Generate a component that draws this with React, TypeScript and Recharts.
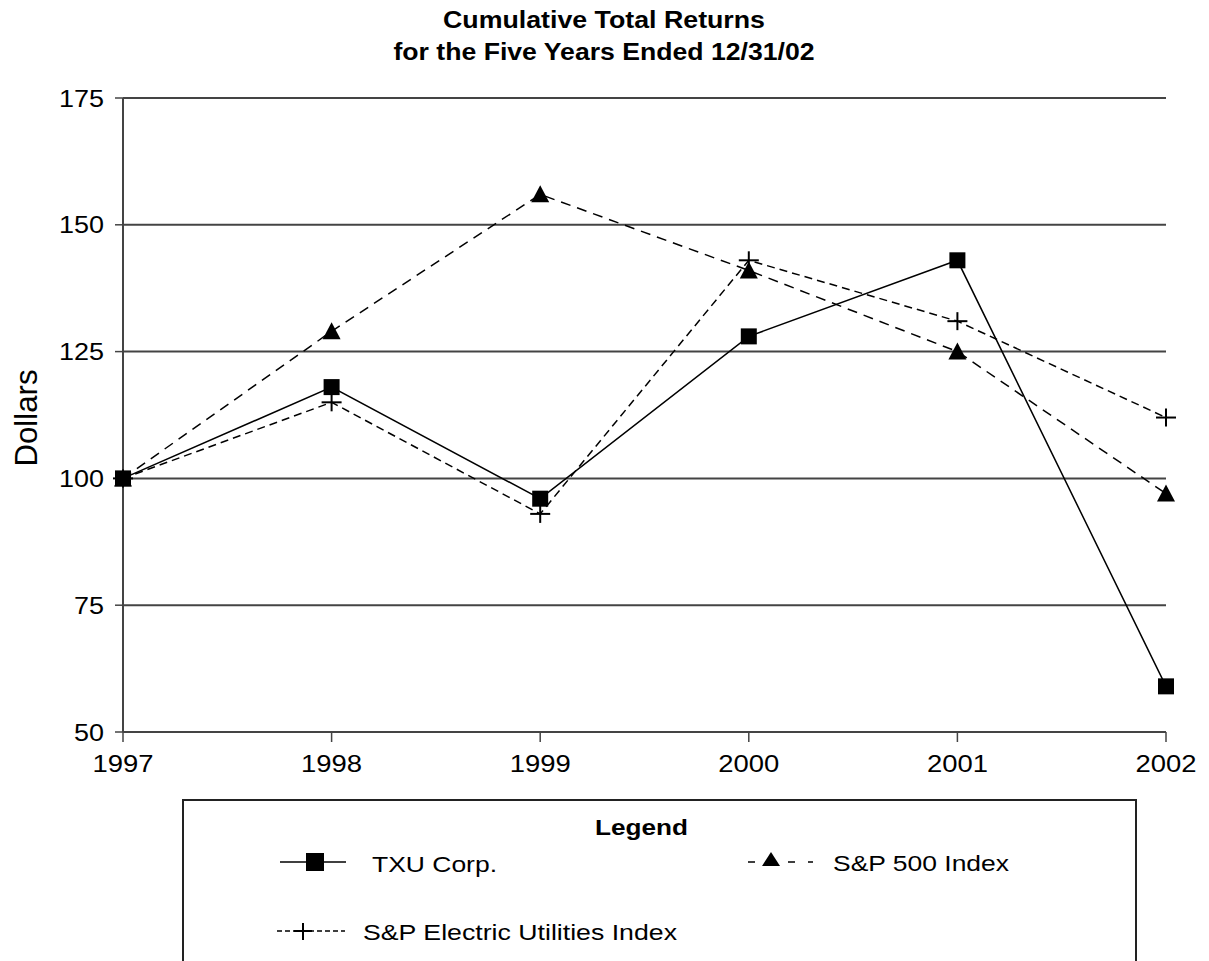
import React from 'react'
import { LineChart, Line, XAxis, YAxis, CartesianGrid, Legend, Customized } from 'recharts'

const years = ['1997', '1998', '1999', '2000', '2001', '2002']
const txuCorp = [100, 118, 96, 128, 143, 59]
const sp500 = [100, 129, 156, 141, 125, 97]
const spElectric = [100, 115, 93, 143, 131, 112]
const yTicks = [50, 75, 100, 125, 150, 175]

const data = years.map((year, i) => ({
  year,
  txu: txuCorp[i],
  sp500: sp500[i],
  elec: spElectric[i],
}))

const FONT = '"Liberation Sans", Arial, Helvetica, sans-serif'

// the source type is a bit wider than Arial, so text gets a textLength
const wide = (len: number) => ({ textLength: len, lengthAdjust: 'spacingAndGlyphs' as const })

const SquareDot = (props: any) => {
  const { cx, cy, index } = props
  if (cx == null || cy == null) return <g key={`sq-${index}`} />
  return <rect key={`sq-${index}`} x={cx - 8} y={cy - 8} width={16} height={16} fill="#000" />
}

const TriangleDot = (props: any) => {
  const { cx, cy, index } = props
  if (cx == null || cy == null) return <g key={`tr-${index}`} />
  return (
    <polygon
      key={`tr-${index}`}
      points={`${cx},${cy - 9} ${cx - 9},${cy + 8} ${cx + 9},${cy + 8}`}
      fill="#000"
    />
  )
}

const PlusDot = (props: any) => {
  const { cx, cy, index } = props
  if (cx == null || cy == null) return <g key={`pl-${index}`} />
  return (
    <g key={`pl-${index}`} stroke="#000" strokeWidth={2}>
      <line x1={cx - 10} y1={cy} x2={cx + 10} y2={cy} />
      <line x1={cx} y1={cy - 9} x2={cx} y2={cy + 9} />
    </g>
  )
}

const YTick = (props: any) => {
  const { x, y, payload } = props
  const s = String(payload.value)
  return (
    <text x={x} y={y} dy="0.355em" textAnchor="end" fontSize={24} fill="#000" fontFamily={FONT} {...wide(s.length * 15)}>
      {s}
    </text>
  )
}

const XTick = (props: any) => {
  const { x, y, payload } = props
  const s = String(payload.value)
  return (
    <text x={x} y={y} dy="0.71em" textAnchor="middle" fontSize={24} fill="#000" fontFamily={FONT} {...wide(s.length * 15.25)}>
      {s}
    </text>
  )
}

const Titles = () => (
  <g fontFamily={FONT} fill="#000">
    <text x={604} y={28} textAnchor="middle" fontSize={23} fontWeight="bold" {...wide(322)}>
      Cumulative Total Returns
    </text>
    <text x={604} y={60} textAnchor="middle" fontSize={23} fontWeight="bold" {...wide(421)}>
      for the Five Years Ended 12/31/02
    </text>
    <text x={37} y={418} textAnchor="middle" fontSize={31} transform="rotate(-90 37 418)" {...wide(97)}>
      Dollars
    </text>
  </g>
)

const LegendBox = () => (
  <div
    style={{
      width: 955,
      height: 162,
      boxSizing: 'border-box',
      borderTop: '2px solid #222',
      borderLeft: '2px solid #222',
      borderRight: '2px solid #222',
      background: '#fff',
    }}
  >
    <svg width={951} height={160} style={{ display: 'block', fontFamily: FONT }}>
      <text x={411} y={34} fontSize={22} fontWeight="bold" fill="#000" {...wide(93)}>Legend</text>

      <line x1={96} y1={61} x2={162} y2={61} stroke="#000" strokeWidth={1.5} />
      <rect x={122} y={52} width={18} height={18} fill="#000" />
      <text x={188} y={71} fontSize={22} fill="#000" {...wide(125)}>TXU Corp.</text>

      <line x1={564} y1={61} x2={629} y2={61} stroke="#000" strokeWidth={1.5} strokeDasharray="7 13" />
      <rect x={576} y={50} width={22} height={17} fill="#fff" />
      <polygon points="587,51 578,65 596,65" fill="#000" />
      <text x={649} y={70} fontSize={22} fill="#000" {...wide(176)}>S&amp;P 500 Index</text>

      <line x1={93} y1={130} x2={161} y2={130} stroke="#000" strokeWidth={1.5} strokeDasharray="5 3" />
      <line x1={110} y1={130} x2={128} y2={130} stroke="#000" strokeWidth={2} />
      <line x1={119} y1={122} x2={119} y2={139} stroke="#000" strokeWidth={2} />
      <text x={179} y={139} fontSize={22} fill="#000" {...wide(314)}>S&amp;P Electric Utilities Index</text>
    </svg>
  </div>
)

export default function App() {
  return (
    <div style={{ position: 'absolute', left: 0, top: 0, background: '#fff' }}>
      <LineChart
        width={1209}
        height={961}
        data={data}
        margin={{ top: 98, right: 43, left: 0, bottom: 0 }}
        style={{ fontFamily: FONT }}
      >
        <CartesianGrid horizontal vertical={false} stroke="#444" strokeWidth={2} />
        <XAxis
          dataKey="year"
          height={67}
          interval={0}
          axisLine={{ stroke: '#444', strokeWidth: 2 }}
          tickLine={{ stroke: '#444', strokeWidth: 1.5 }}
          tickSize={10}
          tickMargin={13}
          tick={XTick}
        />
        <YAxis
          width={123}
          domain={[50, 175]}
          ticks={yTicks}
          interval={0}
          axisLine={{ stroke: '#444', strokeWidth: 2 }}
          tickLine={{ stroke: '#444', strokeWidth: 1.5 }}
          tickSize={8}
          tickMargin={11}
          tick={YTick}
        />
        <Line
          dataKey="elec"
          name="S&P Electric Utilities Index"
          type="linear"
          stroke="#000"
          strokeWidth={1.5}
          strokeDasharray="8 5"
          dot={(p: any) => <PlusDot {...p} key={`pl-${p.index}`} />}
          activeDot={false}
          isAnimationActive={false}
        />
        <Line
          dataKey="sp500"
          name="S&P 500 Index"
          type="linear"
          stroke="#000"
          strokeWidth={1.5}
          strokeDasharray="10 7"
          dot={(p: any) => <TriangleDot {...p} key={`tr-${p.index}`} />}
          activeDot={false}
          isAnimationActive={false}
        />
        <Line
          dataKey="txu"
          name="TXU Corp."
          type="linear"
          stroke="#000"
          strokeWidth={1.5}
          dot={(p: any) => <SquareDot {...p} key={`sq-${p.index}`} />}
          activeDot={false}
          isAnimationActive={false}
        />
        <Legend
          verticalAlign="bottom"
          content={() => <LegendBox />}
          wrapperStyle={{ left: 182, width: 955, bottom: 0 }}
        />
        <Customized component={Titles} />
      </LineChart>
    </div>
  )
}
